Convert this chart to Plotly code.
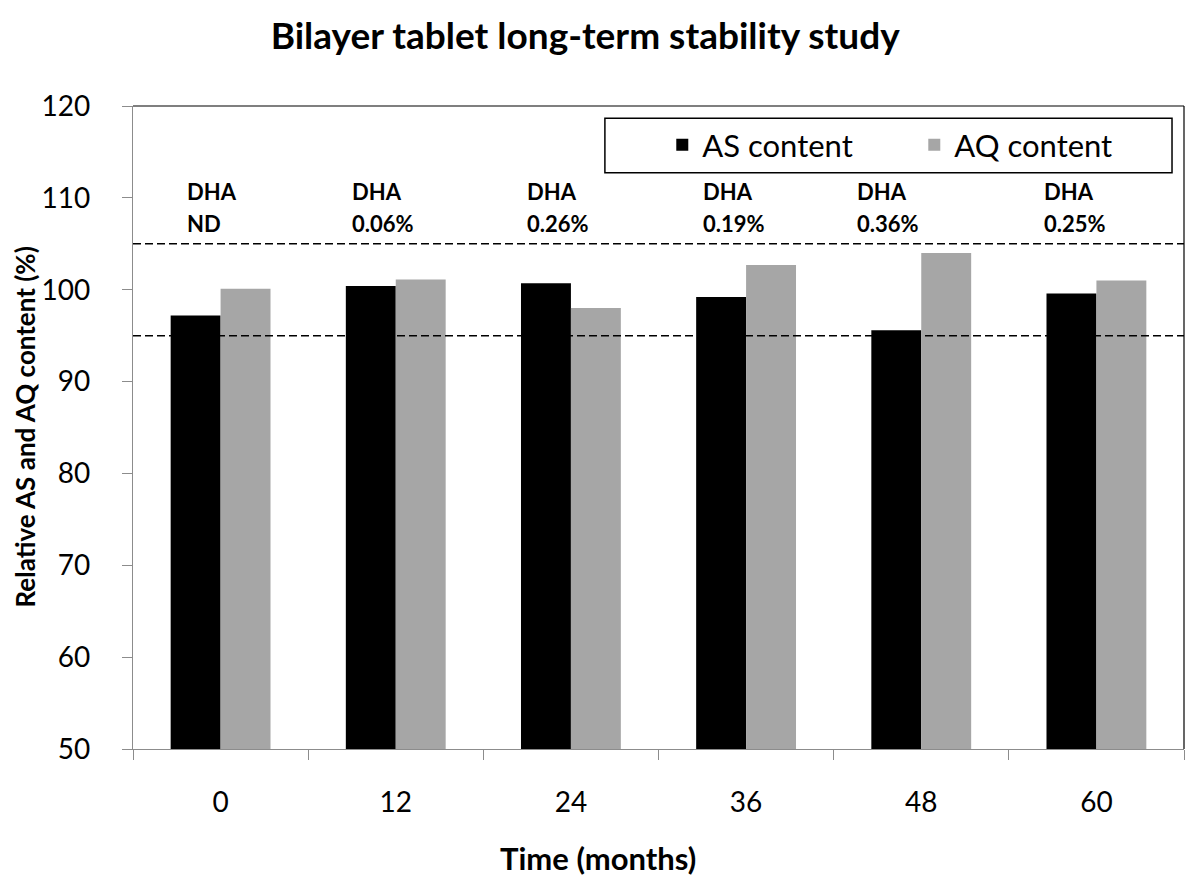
import plotly.graph_objects as go

months = ["0", "12", "24", "36", "48", "60"]
as_content = [97.2, 100.4, 100.7, 99.2, 95.6, 99.6]
aq_content = [100.1, 101.1, 98.0, 102.7, 104.0, 101.0]
dha_labels = ["ND", "0.06%", "0.26%", "0.19%", "0.36%", "0.25%"]
spec_limits = [95, 105]

FONT = "Lato"
label_xshift = [-36, -46, -46, -45, -66, -54]

fig = go.Figure()
fig.add_trace(go.Bar(x=months, y=as_content, name="AS content",
                     marker=dict(color="#000000", line=dict(width=0))))
fig.add_trace(go.Bar(x=months, y=aq_content, name="AQ content",
                     marker=dict(color="#A6A6A6", line=dict(width=0))))

for lim in spec_limits:
    fig.add_shape(type="line", xref="paper", x0=0, x1=1, yref="y", y0=lim, y1=lim,
                  line=dict(color="black", width=1.5, dash="8px,4px"), layer="above")

# plot area border (top and right)
fig.add_shape(type="line", xref="paper", yref="paper", x0=0, x1=1, y0=1, y1=1,
              line=dict(color="black", width=1.2))
fig.add_shape(type="line", xref="paper", yref="paper", x0=1, x1=1, y0=0, y1=1,
              line=dict(color="black", width=1.2))
# legend box
fig.add_shape(type="rect", xref="paper", yref="paper", x0=0.449, x1=0.9886, y0=0.896, y1=0.981,
              line=dict(color="black", width=1.5), fillcolor="white", layer="below")

for i, (lab, xs) in enumerate(zip(dha_labels, label_xshift)):
    fig.add_annotation(x=i, y=110.7, text="<b>DHA</b>", showarrow=False, xanchor="left",
                       yanchor="middle", xshift=xs, font=dict(family=FONT, size=22, color="black"))
    fig.add_annotation(x=i, y=107.2, text="<b>" + lab + "</b>", showarrow=False, xanchor="left",
                       yanchor="middle", xshift=xs, font=dict(family=FONT, size=22, color="black"))

# axis titles
fig.add_annotation(xref="paper", yref="paper", x=-0.1037, y=0.5, xanchor="center", yanchor="middle",
                   textangle=-90, showarrow=False, text="<b>Relative AS and AQ content (%)</b>",
                   font=dict(family=FONT, size=26, color="black"))
fig.add_annotation(xref="paper", yref="paper", x=0.4424, y=-0.1695, xanchor="center", yanchor="middle",
                   showarrow=False, text="<b>Time (months)</b>",
                   font=dict(family=FONT, size=31, color="black"))

fig.update_layout(
    width=1200, height=889,
    margin=dict(l=125, r=24, t=98, b=148),
    paper_bgcolor="white", plot_bgcolor="white",
    barmode="group", bargap=0.43, bargroupgap=0,
    title=dict(text="<b>Bilayer tablet long-term stability study</b>", x=0.481, xanchor="center",
               y=0.968, yanchor="middle", font=dict(family=FONT, size=37, color="black")),
    font=dict(family=FONT, color="black"),
    legend=dict(orientation="h", x=0.5036, xanchor="left", y=0.939, yanchor="middle",
                bgcolor="rgba(0,0,0,0)", borderwidth=0,
                font=dict(family=FONT, size=31, color="black"),
                entrywidth=207, entrywidthmode="pixels", traceorder="normal"),
    xaxis=dict(type="category", range=[-0.5, 5.5], showline=True, linecolor="#8c8c8c", linewidth=1.2,
               ticks="outside", ticklen=10, tickcolor="#8c8c8c", tickson="boundaries",
               tickfont=dict(family=FONT, size=28, color="black"), ticklabelstandoff=28,
               showgrid=False, tickangle=0, automargin=False),
    yaxis=dict(range=[50, 120], dtick=10, showline=True, linecolor="#8c8c8c", linewidth=1.2,
               ticks="outside", ticklen=10, tickcolor="#8c8c8c", showgrid=False, zeroline=False,
               tickfont=dict(family=FONT, size=28, color="black"), ticklabelstandoff=26,
               automargin=False),
)

fig.write_html("out.html")
